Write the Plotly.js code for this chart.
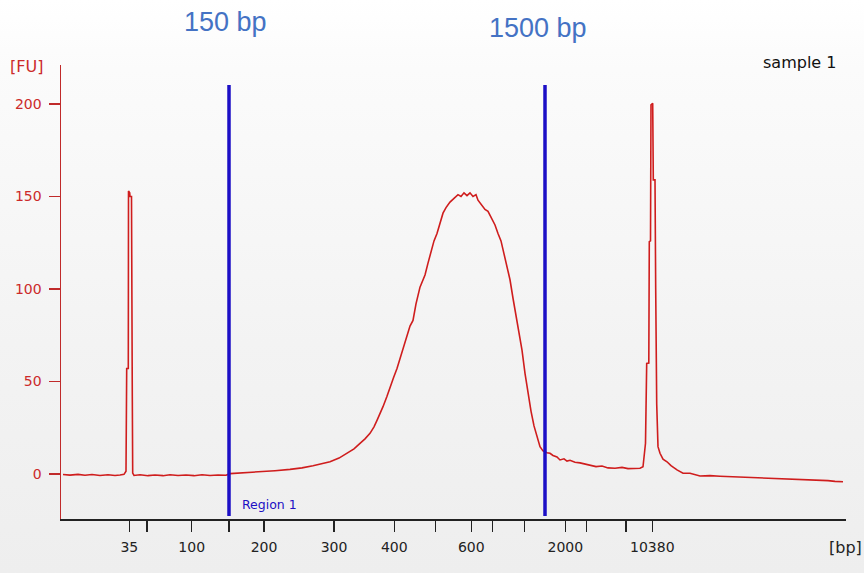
<!DOCTYPE html>
<html>
<head>
<meta charset="utf-8">
<script src="https://cdn.plot.ly/plotly-3.0.1.min.js"></script>
<style>html,body{margin:0;padding:0;background:#fff;}#chart{width:864px;height:573px;background:linear-gradient(to bottom,#ffffff 0%,#fbfbfb 12%,#f3f3f3 60%,#eeeeee 100%);}</style>
</head>
<body>
<div id="chart"></div>
<script>
// Migration time (s) and fluorescence (FU)
var timeSec = [40.2,40.9,41.7,42.4,43.1,43.9,44.7,45.4,45.9,46.3,46.5,46.57,46.73,46.75,46.87,46.9,47.05,47.07,47.13,47.17,47.3,47.9,48.7,49.4,50.2,50.9,51.7,52.5,53.3,54.1,54.9,55.7,56.5,56.9,57.9,58.9,60.2,61.4,62.9,64.1,65.2,66.1,66.9,67.8,68.6,69.3,69.9,70.4,70.9,71.3,71.6,71.9,72.2,72.6,72.9,73.25,73.6,74.0,74.3,74.6,74.9,75.2,75.5,75.9,76.4,76.7,77.0,77.3,77.6,77.9,78.2,78.5,78.9,79.3,79.7,80.0,80.3,80.6,80.9,81.2,81.5,81.7,82.0,82.4,82.7,83.0,83.4,83.7,84.0,84.3,84.6,84.9,85.2,85.5,85.8,86.1,86.4,86.7,87.0,87.3,87.6,87.9,88.2,88.6,88.9,89.2,89.6,89.9,90.3,90.6,90.9,91.4,91.9,92.4,92.9,93.5,94.1,94.7,95.4,96.1,96.7,97.3,97.9,98.2,98.45,98.57,98.78,98.83,98.95,99.0,99.17,99.23,99.4,99.47,99.57,99.7,99.9,100.2,100.6,101.0,101.6,102.2,102.9,103.9,104.9,105.9,106.9,107.9,108.9,109.9,110.9,111.9,112.9,113.9,114.9,115.9,116.7,117.4,118.2];
var fluorescence = [-0.3,-0.6,-0.2,-0.7,-0.3,-0.8,-0.4,-0.8,-0.5,-0.2,1.5,57,57,153,152,150,150,42,42,0.5,-0.8,-0.4,-0.9,-0.5,-0.9,-0.4,-0.8,-0.5,-0.9,-0.4,-0.8,-0.5,-0.7,0.2,0.5,0.9,1.2,1.8,2.5,3.3,4.5,5.4,6.6,8.6,11.2,13.6,16.6,19.0,22,25.5,29,32.5,36.4,42,47,52,57,64,70,74,80,83,92,101,107.6,114,120,126,130,135,141,144,147,149,151,150,152,150.5,152,150,151,148,146,143,142,139,134.6,130,126,119,112,105,95,85,76,67,54.4,43,34,26,20,14.8,12.5,11.5,11.2,10,9.2,7.6,8.2,7.0,7.4,6.4,6.0,5.4,5.0,4.0,4.3,3.3,3.1,3.6,2.9,3.2,3.1,3.9,16.6,59.8,60,125.6,126,199.5,200.4,159,159,100,38,14.8,11.2,8,6.6,4.5,2.2,0.4,0.4,-1.1,-0.9,-1.2,-1.4,-1.8,-2.0,-2.3,-2.6,-2.7,-2.9,-3.0,-3.3,-3.6,-3.6,-4.0,-4.2];

// Ladder sizes (bp) and their migration times; tick labels shown
var ladderBp = [35,50,100,150,200,300,400,500,600,700,1000,2000,3000,7000,10380];
var ladderTime = [46.83,48.6,53.07,56.8,60.3,67.3,73.33,77.47,81.03,83.13,86.33,90.43,92.57,96.5,99.13];
var tickLabels = ['35','','100','','200','300','400','','600','','','2000','','','10380'];

// Region markers
var markerLabels = ['150 bp','1500 bp'];
var markerTime = [56.8,88.4];
var markerSpan = [-22.7,210.3];

var yTicks = [0,50,100,150,200];

var traces = [{
  x: timeSec, y: fluorescence, type: 'scatter', mode: 'lines',
  line: {color: '#cf1d1d', width: 1.6, shape: 'linear'},
  hoverinfo: 'skip', showlegend: false
}];
markerTime.forEach(function(t){
  traces.push({x: [t, t], y: markerSpan, type: 'scatter', mode: 'lines',
    line: {color: '#1c0fc6', width: 3.5}, hoverinfo: 'skip', showlegend: false});
});

var annotations = [
  {text: markerLabels[0], x: markerTime[0], xshift: -4, xref: 'x', y: 1.0947, yref: 'paper',
   showarrow: false, xanchor: 'center', yanchor: 'middle', font: {family: 'Liberation Sans, Arial', size: 27, color: '#4472c4'}},
  {text: markerLabels[1], x: markerTime[1], xshift: -7, xref: 'x', y: 1.0815, yref: 'paper',
   showarrow: false, xanchor: 'center', yanchor: 'middle', font: {family: 'Liberation Sans, Arial', size: 27, color: '#4472c4'}},
  {text: 'Region 1', x: markerTime[0], xshift: 11, xref: 'x', y: -16.5, yref: 'y',
   showarrow: false, xanchor: 'left', yanchor: 'middle', font: {family: 'DejaVu Sans', size: 12.5, color: '#1c10c4'}},
  {text: 'sample 1', x: 1.0, xshift: -8, xref: 'paper', y: 1.0, yshift: 3, yref: 'paper',
   showarrow: false, xanchor: 'right', yanchor: 'middle', font: {family: 'DejaVu Sans', size: 16, color: '#111'}},
  {text: '[FU]', x: 0, xshift: -35, xref: 'paper', y: 0.996, yref: 'paper',
   showarrow: false, xanchor: 'center', yanchor: 'middle', font: {family: 'DejaVu Sans', size: 16, color: '#cc2a2a'}},
  {text: '[bp]', x: 1.0, xshift: -1, xref: 'paper', y: -0.062, yref: 'paper',
   showarrow: false, xanchor: 'center', yanchor: 'middle', font: {family: 'DejaVu Sans', size: 16, color: '#222'}}
];

var layout = {
  width: 864, height: 573,
  margin: {l: 61, r: 18, t: 65, b: 54},
  paper_bgcolor: 'rgba(0,0,0,0)', plot_bgcolor: 'rgba(0,0,0,0)',
  showlegend: false,
  xaxis: {
    range: [40, 118.5], showgrid: false, zeroline: false,
    showline: true, linecolor: '#222', linewidth: 1.5,
    tickmode: 'array', tickvals: ladderTime, ticktext: tickLabels,
    ticks: 'outside', ticklen: 11, tickwidth: 1.5, tickcolor: '#222',
    ticklabelstandoff: 4,
    tickfont: {family: 'DejaVu Sans', size: 14, color: '#222'}
  },
  yaxis: {
    range: [-24.32, 221.08], showgrid: false, zeroline: false,
    showline: true, linecolor: '#c02a2a', linewidth: 1.5,
    tickmode: 'array', tickvals: yTicks, ticktext: yTicks.map(String),
    ticks: 'outside', ticklen: 11, tickwidth: 1.5, tickcolor: '#c02a2a',
    ticklabelstandoff: 4,
    tickfont: {family: 'DejaVu Sans', size: 14, color: '#cc2a2a'}
  },
  annotations: annotations
};

Plotly.newPlot('chart', traces, layout, {staticPlot: true, displayModeBar: false});
</script>
</body>
</html>
